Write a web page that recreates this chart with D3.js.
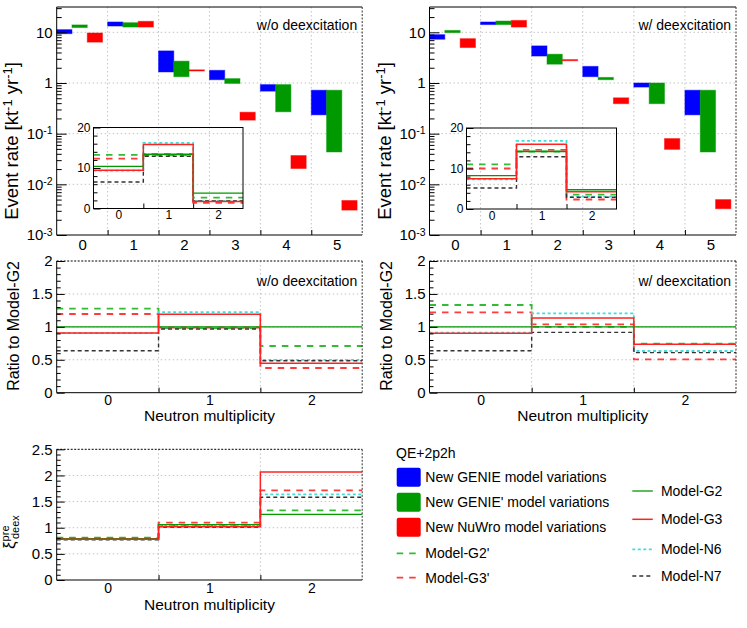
<!DOCTYPE html>
<html>
<head>
<meta charset="utf-8">
<script src="https://d3js.org/d3.v7.min.js"></script>
<style>
  body { margin: 0; background: #fff; }
  svg { font-family: "Liberation Sans", Arial, sans-serif; }
</style>
</head>
<body>
<svg id="chart" width="747" height="628"></svg>
<script>
// ===================================================
// DATA
// ===================================================
const binsAll = ["0", "1", "2", "3", "4", "5"];
const binsLow = ["0", "1", "2"];

// Event-rate bands [min, max] in kt^-1 yr^-1, w/o deexcitation
const genieBandWo  = [[9.4, 11.3], [13.3, 16.0], [1.65, 4.3], [1.16, 1.78], [0.69, 0.93], [0.235, 0.72]];
const genie2BandWo = [[12.4, 14.0], [12.7, 15.5], [1.33, 2.7], [0.98, 1.22], [0.27, 0.93], [0.0435, 0.72]];
const nuwroBandWo  = [[6.4, 9.7], [12.7, 16.5], [1.75, 1.82], [0.185, 0.265], [0.0205, 0.037], [0.0031, 0.0048]];

// Event-rate bands, w/ deexcitation
const genieBandW  = [[7.3, 9.0], [14.2, 16.0], [3.4, 5.4], [1.33, 2.13], [0.83, 1.0], [0.235, 0.72]];
const genie2BandW = [[9.85, 10.9], [14.2, 16.7], [2.35, 3.7], [1.16, 1.29], [0.39, 1.0], [0.0435, 0.72]];
const nuwroBandW  = [[5.0, 7.5], [12.7, 17.2], [2.8, 2.9], [0.39, 0.51], [0.049, 0.08], [0.0033, 0.005]];

// Model order used by every table below (drawing order, last on top)
const modelNames = ["Model-G2'", "Model-G3'", "Model-N6", "Model-N7", "Model-G2", "Model-G3"];

// Inset event rates for multiplicity 0,1,2
const rateWo = [
    [13.25, 13.1, 2.7],
    [12.3, 13.4, 1.42],
    [9.35, 16.2, 1.9],
    [6.55, 12.9, 1.85],
    [10.4, 13.4, 3.8],
    [9.45, 15.8, 1.7]
];
const rateW = [
    [11.0, 14.2, 3.55],
    [10.0, 14.6, 2.35],
    [7.3, 16.8, 3.05],
    [5.2, 12.9, 2.9],
    [8.25, 14.2, 4.75],
    [7.45, 16.0, 4.25]
];

// Ratio to Model-G2
const ratioWo = [
    [1.276, 0.98, 0.709],
    [1.195, 0.99, 0.375],
    [0.905, 1.225, 0.50],
    [0.638, 0.967, 0.486],
    [1.0, 1.0, 1.0],
    [0.908, 1.19, 0.446]
];
const ratioW = [
    [1.332, 1.0, 0.745],
    [1.22, 1.038, 0.506],
    [0.911, 1.205, 0.633],
    [0.638, 0.916, 0.608],
    [1.0, 1.0, 1.0],
    [0.901, 1.134, 0.734]
];

// xi_deex^pre
const xiDeex = [
    [0.81, 1.05, 1.333],
    [0.80, 1.097, 1.716],
    [0.78, 1.04, 1.639],
    [0.77, 1.01, 1.582],
    [0.79, 1.06, 1.256],
    [0.78, 1.02, 2.066]
];

// Tick values
const logMajor = [1e-3, 1e-2, 1e-1, 1, 10];
const ratioMajor = [0, 0.5, 1, 1.5, 2];
const xiMajor = [0, 0.5, 1, 1.5, 2, 2.5];
const insetMajor = [0, 10, 20];

// ===================================================
// STYLES & LAYOUT
// ===================================================
const bandColors = ["#0000ff", "#009900", "#ff0000"];
const modelColor = ["#33bb33", "#ff3b3b", "#44dddd", "#333333", "#009900", "#ff2222"];
const modelDash  = ["6.5,6", "6.5,6", "3,2.5", "4,3", null, null];
const modelWidth = [1.8, 1.8, 1.8, 1.4, 1.3, 1.5];

const frameTopL = {x0: 56.7, x1: 362.2, y0: 7, y1: 235};
const frameTopR = {x0: 429.5, x1: 736, y0: 7, y1: 235};
const frameInsL = {x0: 93.5, x1: 243, y0: 127.5, y1: 208.5};
const frameInsR = {x0: 466.5, x1: 616.5, y0: 128, y1: 209};
const frameRatL = {x0: 56.7, x1: 362.2, y0: 261, y1: 392.7};
const frameRatR = {x0: 429.5, x1: 736, y0: 261, y1: 392.7};
const frameXi   = {x0: 56.7, x1: 362.2, y0: 449.3, y1: 580};

const svg = d3.select("#chart");
const GRID = "#c4c4c4";

// ===================================================
// HELPERS
// ===================================================
function binScale(f, n) {
    return d3.scaleLinear().domain([-0.5, n - 0.5]).range([f.x0, f.x1]);
}

function gridLines(g, f, x, y, xVals, yVals) {
    const grid = g.append("g").attr("stroke", GRID).attr("stroke-dasharray", "1.5,2.5");
    xVals.forEach(v => grid.append("line")
        .attr("x1", x(v)).attr("x2", x(v)).attr("y1", f.y0).attr("y2", f.y1));
    yVals.forEach(v => grid.append("line")
        .attr("x1", f.x0).attr("x2", f.x1).attr("y1", y(v)).attr("y2", y(v)));
}

function frame(g, f, topDotted) {
    const fr = g.append("g").attr("stroke", "#000").attr("fill", "none");
    fr.append("line").attr("x1", f.x0).attr("x2", f.x0).attr("y1", f.y0).attr("y2", f.y1);
    fr.append("line").attr("x1", f.x0).attr("x2", f.x1).attr("y1", f.y1).attr("y2", f.y1);
    fr.append("line").attr("x1", f.x0).attr("x2", f.x1).attr("y1", f.y0).attr("y2", f.y0)
        .attr("stroke-dasharray", topDotted ? "2,1.5" : null);
    fr.append("line").attr("x1", f.x1).attr("x2", f.x1).attr("y1", f.y0).attr("y2", f.y1)
        .attr("stroke-dasharray", "2,1.5").attr("stroke", "#333");
}

// Left axis with inside ticks (major + minor)
function leftAxis(g, f, y, major, minor, majLen, minLen, fmt, fontSize, pad) {
    const minorG = g.append("g").attr("transform", `translate(${f.x0},0)`)
        .call(d3.axisLeft(y).tickValues(minor).tickSize(-minLen).tickFormat(""));
    minorG.select(".domain").remove();

    const majorG = g.append("g").attr("transform", `translate(${f.x0},0)`)
        .call(d3.axisLeft(y).tickValues(major).tickSize(-majLen).tickPadding(pad).tickFormat(fmt));
    majorG.select(".domain").remove();
    majorG.attr("font-family", null).attr("font-size", fontSize);
    majorG.selectAll("text").attr("fill", "#000");
    return majorG;
}

// Bottom axis: ticks on bin edges, labels on bin centres
function bottomAxis(g, f, x, labels, tickLen, fontSize, pad) {
    const edges = d3.range(labels.length - 1).map(i => i + 0.5);
    const tg = g.append("g").attr("transform", `translate(0,${f.y1})`)
        .call(d3.axisBottom(x).tickValues(edges).tickSize(-tickLen).tickFormat(""));
    tg.select(".domain").remove();

    const lg = g.append("g").attr("transform", `translate(0,${f.y1})`)
        .call(d3.axisBottom(x).tickValues(d3.range(labels.length)).tickSize(0)
            .tickPadding(pad).tickFormat(i => labels[i]));
    lg.select(".domain").remove();
    lg.attr("font-family", null).attr("font-size", fontSize);
    lg.selectAll("text").attr("fill", "#000");
}

function powerLabels(axisG) {
    axisG.selectAll("text").each(function(d) {
        const e = Math.round(Math.log10(d));
        const t = d3.select(this).text(null);
        if (e === 0) { t.text("1"); return; }
        t.append("tspan").text("10");
        if (e !== 1) {
            t.append("tspan").attr("dy", "-0.45em").attr("font-size", "10.5px").text(e);
        }
    });
}

// Histogram drawn as a step line
function stepPath(x, y, vals) {
    const pts = vals.map((v, i) => [i - 0.5, v]);
    pts.push([vals.length - 0.5, vals[vals.length - 1]]);
    return d3.line().x(d => x(d[0])).y(d => y(d[1])).curve(d3.curveStepAfter)(pts);
}

function drawModels(g, x, y, table) {
    table.forEach((vals, m) => {
        g.append("path")
            .attr("d", stepPath(x, y, vals))
            .attr("fill", "none")
            .attr("stroke", modelColor[m])
            .attr("stroke-width", modelWidth[m])
            .attr("stroke-dasharray", modelDash[m]);
    });
}

function yTitle(g, x, y, anchor, parts, fontSize) {
    const t = g.append("text")
        .attr("transform", `translate(${x},${y}) rotate(-90)`)
        .attr("text-anchor", anchor)
        .attr("font-size", fontSize);
    parts.forEach(p => {
        const s = t.append("tspan").text(p.text);
        if (p.sup) s.attr("dy", -6).attr("font-size", fontSize * 0.7);
        if (p.back) s.attr("dy", 6);
    });
}

function tag(g, f, y, text) {
    g.append("text").attr("x", f.x1 - 5).attr("y", y)
        .attr("text-anchor", "end").attr("font-size", 14).text(text);
}

// ===================================================
// TOP PANELS: event rate with model variation bands
// ===================================================
function drawRatePanel(f, fi, bands, rates, label, titleX) {
    const g = svg.append("g");
    const x = binScale(f, binsAll.length);
    const y = d3.scaleLog().domain([1e-3, 31.6]).range([f.y1, f.y0]);

    gridLines(g, f, x, y, [0.5, 1.5, 2.5, 3.5, 4.5], [1e-2, 1e-1, 1, 10]);

    // Bands: three boxes per bin, each 0.3 bin wide
    bands.forEach((band, s) => {
        g.append("g").selectAll("rect")
            .data(band)
            .join("rect")
            .attr("x", (d, i) => x(i - 0.5 + 0.3 * s))
            .attr("width", x(0.3) - x(0))
            .attr("y", d => y(d[1]))
            .attr("height", d => Math.max(1.2, y(d[0]) - y(d[1])))
            .attr("fill", bandColors[s])
            .attr("stroke", bandColors[s])
            .attr("stroke-opacity", 0.45);
    });

    const minor = [];
    d3.range(-3, 2).forEach(e => d3.range(2, 10).forEach(k => {
        const v = k * Math.pow(10, e);
        if (v < 31.6) minor.push(v);
    }));
    const ax = leftAxis(g, f, y, logMajor, minor, 10, 5, d => d, 15, 4);
    powerLabels(ax);
    bottomAxis(g, f, x, binsAll, 5, 15, 4);
    frame(g, f, false);
    tag(g, f, 30, label);

    yTitle(g, titleX, 141, "middle",
        [{text: "Event rate [kt"}, {text: "-1", sup: true}, {text: " yr", back: true},
         {text: "-1", sup: true}, {text: "]", back: true}], 18.5);

    // Inset: linear event rate for multiplicity 0-2
    const xi = binScale(fi, binsLow.length);
    const yi = d3.scaleLinear().domain([0, 20]).range([fi.y1, fi.y0]);
    drawModels(g, xi, yi, rates);
    leftAxis(g, fi, yi, insetMajor, [2, 4, 6, 8, 12, 14, 16, 18], 7, 4, d => d, 12, 3);
    bottomAxis(g, fi, xi, binsLow, 5, 12, 2);
    g.append("rect").attr("x", fi.x0).attr("y", fi.y0)
        .attr("width", fi.x1 - fi.x0).attr("height", fi.y1 - fi.y0)
        .attr("fill", "none").attr("stroke", "#000");
}

// ===================================================
// STEP PANELS: ratio and xi
// ===================================================
function drawStepPanel(f, table, yMax, major, label, titleParts, titleX, titleY, titleAnchor) {
    const g = svg.append("g");
    const x = binScale(f, binsLow.length);
    const y = d3.scaleLinear().domain([0, yMax]).range([f.y1, f.y0]);

    gridLines(g, f, x, y, [0.5, 1.5], major.slice(1, -1));
    drawModels(g, x, y, table);

    const minor = d3.range(0, Math.round(yMax * 10) + 1).map(i => i / 10)
        .filter(v => !major.some(m => Math.abs(m - v) < 1e-6));
    leftAxis(g, f, y, major, minor, 8, 4, d3.format("~g"), 15, 4);
    bottomAxis(g, f, x, binsLow, 5, 14, label ? 2 : 3);
    frame(g, f, true);
    if (label) tag(g, f, 286, label);

    g.append("text")
        .attr("x", (f.x0 + f.x1) / 2).attr("y", f.y1 + (label ? 28.5 : 29.5))
        .attr("text-anchor", "middle").attr("font-size", 15.5)
        .text("Neutron multiplicity");

    if (titleParts) yTitle(g, titleX, titleY, titleAnchor, titleParts, 16);
}

drawRatePanel(frameTopL, frameInsL, [genieBandWo, genie2BandWo, nuwroBandWo], rateWo, "w/o deexcitation", 18);
drawRatePanel(frameTopR, frameInsR, [genieBandW, genie2BandW, nuwroBandW], rateW, "w/ deexcitation", 391);

drawStepPanel(frameRatL, ratioWo, 2, ratioMajor, "w/o deexcitation",
    [{text: "Ratio to Model-G2"}], 19, 261, "end");
drawStepPanel(frameRatR, ratioW, 2, ratioMajor, "w/ deexcitation",
    [{text: "Ratio to Model-G2"}], 392, 261, "end");
drawStepPanel(frameXi, xiDeex, 2.5, xiMajor, null, null);

// xi title: ξ with stacked super/subscript
const xiTitle = svg.append("text")
    .attr("transform", "translate(15,549) rotate(-90)")
    .attr("font-size", 17);
xiTitle.append("tspan").text("ξ");
xiTitle.append("tspan").attr("dy", -6.5).attr("font-size", 11).text("pre");
xiTitle.append("tspan").attr("x", 10).attr("dy", 10).attr("font-size", 11).text("deex");

// ===================================================
// LEGEND
// ===================================================
const legend = svg.append("g").attr("font-size", 14);
legend.append("text").attr("x", 396).attr("y", 458).text("QE+2p2h");

const bandLabels = ["New GENIE model variations", "New GENIE' model variations", "New NuWro model variations"];
bandLabels.forEach((txt, i) => {
    const cy = 477.2 + i * 25;
    legend.append("rect").attr("x", 396.7).attr("y", cy - 9.5)
        .attr("width", 24).attr("height", 19).attr("rx", 2)
        .attr("fill", bandColors[i]);
    legend.append("text").attr("x", 425.3).attr("y", cy + 5).text(txt);
});

// model lines: [model index, column x, centre y]
const legendRows = [[0, 396.7, 553.3], [1, 396.7, 577.7], [4, 632.3, 491], [5, 632.3, 519.3], [2, 632.3, 549.3], [3, 632.3, 576]];
legendRows.forEach(([m, lx, cy]) => {
    legend.append("line").attr("x1", lx).attr("x2", lx + 20.5).attr("y1", cy).attr("y2", cy)
        .attr("stroke", modelColor[m]).attr("stroke-width", modelWidth[m])
        .attr("stroke-dasharray", modelDash[m]);
    legend.append("text").attr("x", lx + 28.6).attr("y", cy + 5).text(modelNames[m]);
});
</script>
</body>
</html>
